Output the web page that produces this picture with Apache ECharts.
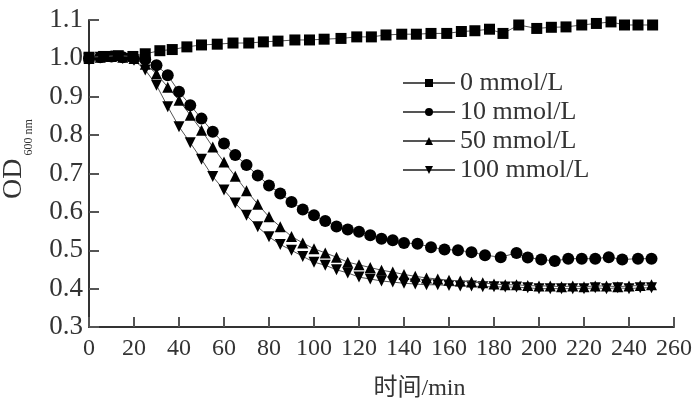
<!DOCTYPE html>
<html>
<head>
<meta charset="utf-8">
<script src="https://cdn.jsdelivr.net/npm/echarts@6/dist/echarts.min.js"></script>
<style>
  html, body { margin: 0; padding: 0; background: #fff; }
  #main { width: 692px; height: 398px; }
</style>
</head>
<body>
<div id="main"></div>
<script>
// 0 mmol/L (squares)
var t0 = [0, 6.5, 13, 19.5, 25, 31.5, 37, 43.5, 50, 57, 64, 71, 77.5, 84, 91.5, 98, 104.5, 112, 119, 125.5,
  132, 139, 145.5, 152, 159, 165.5, 171.5, 178, 184, 191, 199, 205.5, 212, 219, 225.5, 232, 238, 244, 250.5];
var v0 = [1.003, 1.005, 1.007, 1.005, 1.012, 1.02, 1.023, 1.03, 1.035, 1.037, 1.04, 1.04, 1.043, 1.045, 1.048, 1.048,
  1.05, 1.052, 1.056, 1.056, 1.061, 1.063, 1.063, 1.065, 1.065, 1.07, 1.072, 1.076, 1.065, 1.087, 1.078, 1.081,
  1.082, 1.087, 1.091, 1.095, 1.087, 1.087, 1.087];

// 10 mmol/L (circles)
var t10 = [0, 5, 10, 15, 20, 25, 30, 35, 40, 45, 50, 55, 60, 65, 70, 75, 80, 85, 90, 95, 100, 105, 110, 115, 120,
  125, 130, 135, 140, 146, 152, 158, 164, 170, 176, 183, 190, 195, 201, 207, 213, 219, 225, 231, 237, 244, 250];
var v10 = [1.0, 1.003, 1.005, 1.003, 1.0, 0.997, 0.982, 0.956, 0.913, 0.878, 0.843, 0.809, 0.778, 0.748, 0.722,
  0.695, 0.669, 0.648, 0.626, 0.606, 0.591, 0.576, 0.562, 0.554, 0.548, 0.539, 0.53, 0.526, 0.519, 0.517, 0.508,
  0.502, 0.5, 0.495, 0.487, 0.482, 0.493, 0.481, 0.476, 0.472, 0.478, 0.478, 0.478, 0.482, 0.476, 0.478, 0.478];

// 50 / 100 mmol/L (triangles), every 5 min
var t50 = [0, 5, 10, 15, 20, 25, 30, 35, 40, 45, 50, 55, 60, 65, 70, 75, 80, 85, 90, 95, 100, 105, 110, 115, 120,
  125, 130, 135, 140, 145, 150, 155, 160, 165, 170, 175, 180, 185, 190, 195, 200, 205, 210, 215, 220, 225, 230,
  235, 240, 245, 250];
var v50 = [1.0, 1.003, 1.005, 1.003, 1.0, 0.985, 0.96, 0.925, 0.891, 0.852, 0.813, 0.769, 0.73, 0.693, 0.655,
  0.62, 0.587, 0.561, 0.536, 0.519, 0.504, 0.493, 0.482, 0.469, 0.462, 0.455, 0.448, 0.443, 0.437, 0.432, 0.428,
  0.425, 0.422, 0.42, 0.417, 0.415, 0.412, 0.41, 0.41, 0.408, 0.407, 0.407, 0.405, 0.407, 0.405, 0.407, 0.407,
  0.405, 0.407, 0.408, 0.41];
var t100 = t50;
var v100 = [1.0, 1.003, 1.005, 1.0, 0.995, 0.97, 0.93, 0.874, 0.822, 0.78, 0.737, 0.692, 0.657, 0.623, 0.591,
  0.561, 0.535, 0.515, 0.5, 0.484, 0.469, 0.461, 0.449, 0.441, 0.43, 0.425, 0.42, 0.417, 0.414, 0.412, 0.41,
  0.41, 0.408, 0.407, 0.407, 0.405, 0.405, 0.404, 0.404, 0.402, 0.4, 0.4, 0.4, 0.4, 0.4, 0.402, 0.4, 0.402,
  0.4, 0.402, 0.402];

var names = ['0 mmol/L', '10 mmol/L', '50 mmol/L', '100 mmol/L'];

function pairs(t, v) {
  return t.map(function (x, i) { return [x, v[i]]; });
}

var serif = "'Liberation Serif', 'Noto Sans CJK SC', serif";

function mk(name, t, v, symbol, size, rot, z) {
  return {
    name: name,
    type: 'line',
    data: pairs(t, v),
    symbol: symbol,
    symbolSize: size,
    symbolRotate: rot,
    showAllSymbol: true,
    z: z,
    itemStyle: { color: '#000' },
    lineStyle: { color: '#555', width: 1 }
  };
}

var myChart = echarts.init(document.getElementById('main'));
var option = {
  animation: false,
  backgroundColor: '#fff',
  grid: { left: 89, right: 18, top: 20, bottom: 71, outerBoundsMode: 'none' },
  legend: {
    orient: 'vertical',
    left: 402,
    top: 70,
    padding: 0,
    itemWidth: 52,
    itemHeight: 10,
    itemGap: 3,
    textStyle: { fontFamily: serif, fontSize: 26, lineHeight: 26, color: '#333' },
    data: names
  },
  xAxis: {
    type: 'value',
    min: 0, max: 260, interval: 20,
    name: '时间/min',
    nameLocation: 'middle',
    nameGap: 50,
    nameTextStyle: { fontFamily: serif, fontSize: 24, color: '#333', padding: [0, 0, 0, 76] },
    axisLine: { lineStyle: { color: '#333', width: 2 } },
    axisTick: { inside: true, length: 10, lineStyle: { color: '#555', width: 2 } },
    axisLabel: { fontFamily: serif, fontSize: 24, color: '#333', margin: 10 },
    splitLine: { show: false }
  },
  yAxis: {
    type: 'value',
    min: 0.3, max: 1.1, interval: 0.1,
    name: '{a|OD}{b|600 nm}',
    nameLocation: 'middle',
    nameGap: 60,
    nameRotate: 90,
    nameTextStyle: {
      padding: [0, 0, 0, 29],
      rich: {
        a: { fontFamily: serif, fontSize: 28, color: '#333', lineHeight: 30 },
        b: { fontFamily: serif, fontSize: 12, color: '#333', verticalAlign: 'bottom', lineHeight: 30, padding: [0, 0, -6, 3] }
      }
    },
    axisLine: { show: true, lineStyle: { color: '#333', width: 2 } },
    axisTick: { show: true, inside: true, length: 10, lineStyle: { color: '#555', width: 2 } },
    axisLabel: {
      fontFamily: serif, fontSize: 27, color: '#333', margin: 6,
      formatter: function (v) { return v.toFixed(1); }
    },
    splitLine: { show: false }
  },
  series: [
    mk(names[0], t0, v0, 'rect', 11, 0, 5),
    mk(names[1], t10, v10, 'circle', 12, 0, 4),
    mk(names[2], t50, v50, 'triangle', 11, 0, 3),
    mk(names[3], t100, v100, 'triangle', 11, 180, 2)
  ]
};
myChart.setOption(option);
</script>
</body>
</html>
